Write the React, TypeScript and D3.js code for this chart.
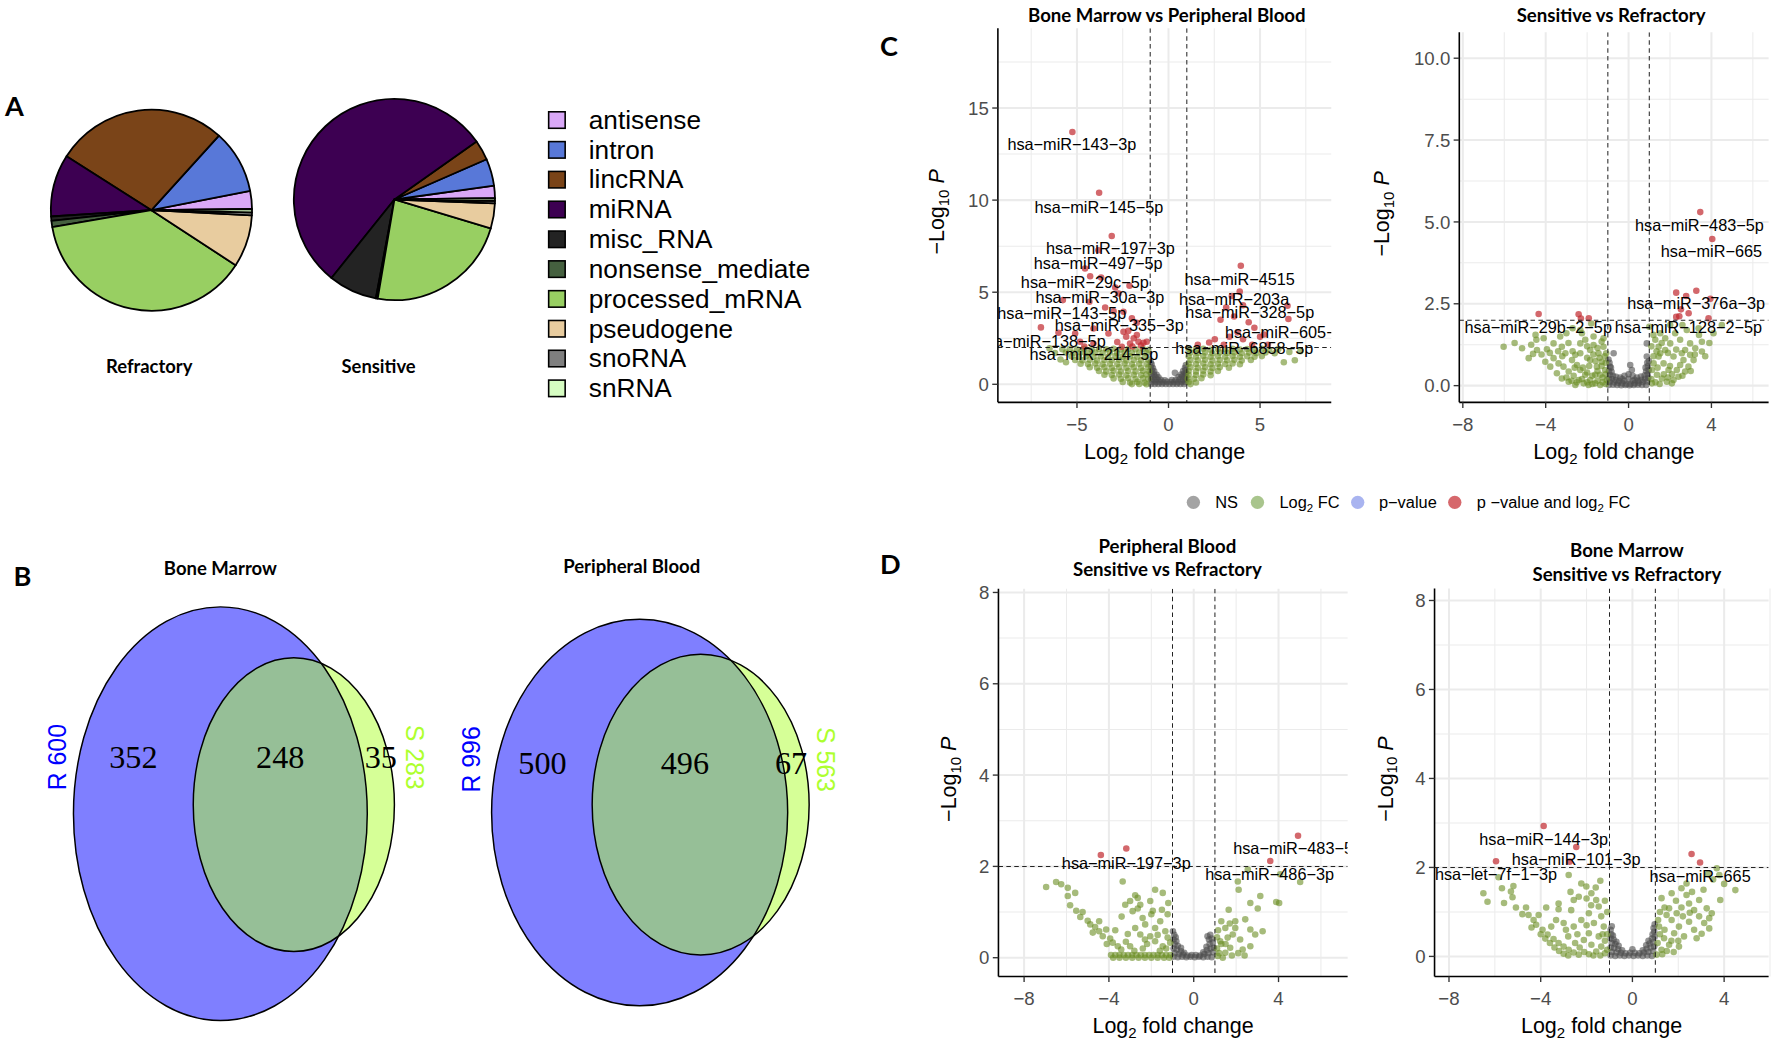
import React, { useEffect, useRef } from 'react';
import * as d3 from 'd3';

type Pt = [number, number];
type Lab = [string, number, number];

// drawing units (the svg is scaled up to 1772x1042)
const VW = 1568;
const VH = 922;
const SANS = "'Liberation Sans', Arial, Helvetica, sans-serif";
const BOLD = "Lato, 'Open Sans', sans-serif";
const SERIF = "'Liberation Serif', 'Times New Roman', serif";

// ---------- A: biotype composition (% of reads) ----------
const biotypes = ['antisense', 'intron', 'lincRNA', 'miRNA', 'misc_RNA', 'nonsense_mediate', 'processed_mRNA', 'pseudogene', 'snoRNA', 'snRNA'];
const biotypeColors = ['#D9A8F7', '#5878D8', '#7A4418', '#3D0052', '#232323', '#45603F', '#98CF62', '#E8CC9F', '#7F7F7F', '#D6FDC2'];
const refractoryShare = [2.9, 10.2, 27.7, 10.0, 0.7, 1.0, 38.1, 8.4, 0.45, 0.55];
const sensitiveShare = [2.0, 4.35, 3.25, 54.45, 7.8, 0.3, 23.0, 4.05, 0.4, 0.4];
const pieNames = ['Refractory', 'Sensitive'];

// ---------- B: Venn counts ----------
const vennSets = ['Bone Marrow', 'Peripheral Blood'];
const refractoryTotals = [600, 996];
const sensitiveTotals = [283, 563];
const refractoryOnly = [352, 500];
const sharedCounts = [248, 496];
const sensitiveOnly = [35, 67];

// ---------- C left: Bone Marrow vs Peripheral Blood ----------
const bmPbNs: Pt[] = [
  [-0.95, 0.02], [-0.75, 0.02], [-0.55, 0.02], [-0.35, 0.02], [-0.15, 0.02], [0.05, 0.02], [0.25, 0.02], [0.45, 0.02], [0.65, 0.02], [0.85, 0.02],
  [-0.88, 0.14], [-0.68, 0.12], [-0.48, 0.13], [-0.28, 0.11], [-0.08, 0.14], [0.12, 0.12], [0.32, 0.13], [0.52, 0.11], [0.72, 0.14], [0.92, 0.12],
  [-0.95, 0.27], [-0.78, 0.25], [-0.6, 0.26], [-0.42, 0.24], [-0.2, 0.22], [0.18, 0.23], [0.4, 0.25], [0.62, 0.27], [0.8, 0.24], [0.96, 0.28],
  [-0.9, 0.42], [-0.72, 0.4], [-0.55, 0.38], [0.55, 0.39], [0.74, 0.42], [0.9, 0.44],
  [-0.95, 0.58], [-0.8, 0.55], [-0.65, 0.52], [0.68, 0.53], [0.84, 0.57], [0.96, 0.6],
  [-0.9, 0.75], [-0.78, 0.7], [0.8, 0.72], [0.93, 0.78],
  [-0.95, 0.92], [-0.85, 0.88], [0.9, 0.9], [-0.92, 1.08], [0.95, 1.05], [0.35, 0.62], [-0.97, 1.2],
];
const bmPbFc: Pt[] = [
  [-5.4, 1.92], [-5.0, 1.9], [-4.6, 1.93], [-4.2, 1.88], [-3.8, 1.92], [-3.4, 1.9], [-3.0, 1.93], [-2.6, 1.89], [-2.2, 1.92], [-1.8, 1.9], [-1.4, 1.93], [-1.1, 1.88],
  [-5.6, 1.72], [-5.2, 1.7], [-4.8, 1.74], [-4.4, 1.69], [-4.0, 1.72], [-3.6, 1.7], [-3.2, 1.73], [-2.8, 1.69], [-2.4, 1.72], [-2.0, 1.7], [-1.6, 1.73], [-1.2, 1.7],
  [-5.3, 1.52], [-4.9, 1.5], [-4.5, 1.53], [-4.1, 1.49], [-3.7, 1.52], [-3.3, 1.5], [-2.9, 1.53], [-2.5, 1.49], [-2.1, 1.52], [-1.7, 1.5], [-1.3, 1.53],
  [-5.1, 1.32], [-4.7, 1.3], [-4.3, 1.33], [-3.9, 1.29], [-3.5, 1.32], [-3.1, 1.3], [-2.7, 1.33], [-2.3, 1.29], [-1.9, 1.32], [-1.5, 1.3], [-1.1, 1.33],
  [-4.8, 1.12], [-4.4, 1.1], [-4.0, 1.13], [-3.6, 1.09], [-3.2, 1.12], [-2.8, 1.1], [-2.4, 1.13], [-2.0, 1.09], [-1.6, 1.12], [-1.2, 1.1],
  [-4.3, 0.92], [-3.9, 0.9], [-3.5, 0.93], [-3.1, 0.89], [-2.7, 0.92], [-2.3, 0.9], [-1.9, 0.93], [-1.5, 0.89], [-1.1, 0.92],
  [-3.8, 0.72], [-3.4, 0.7], [-3.0, 0.73], [-2.6, 0.69], [-2.2, 0.72], [-1.8, 0.7], [-1.4, 0.73], [-1.05, 0.69],
  [-3.5, 0.52], [-3.1, 0.5], [-2.7, 0.53], [-2.3, 0.49], [-1.9, 0.52], [-1.5, 0.5], [-1.2, 0.53],
  [-3.0, 0.32], [-2.6, 0.3], [-2.2, 0.33], [-1.8, 0.29], [-1.4, 0.32], [-1.1, 0.3],
  [-2.5, 0.12], [-2.1, 0.1], [-1.7, 0.13], [-1.3, 0.09], [-2.0, 0.01], [-1.6, 0.02], [-1.2, 0.0],
  [-6.2, 1.7], [-5.9, 1.35], [-6.5, 1.95], [-5.8, 1.9], [-5.6, 1.2],
  [1.1, 1.92], [1.5, 1.9], [1.9, 1.93], [2.3, 1.88], [2.7, 1.92], [3.1, 1.9], [3.5, 1.93], [3.9, 1.89], [4.3, 1.92], [4.7, 1.9], [5.1, 1.93], [5.5, 1.88], [6.0, 1.91],
  [1.2, 1.72], [1.6, 1.7], [2.0, 1.73], [2.4, 1.69], [2.8, 1.72], [3.2, 1.7], [3.6, 1.73], [4.0, 1.69], [4.4, 1.72], [4.8, 1.7], [5.3, 1.73], [5.8, 1.69], [6.6, 1.75],
  [1.1, 1.52], [1.5, 1.5], [1.9, 1.53], [2.3, 1.49], [2.7, 1.52], [3.1, 1.5], [3.5, 1.53], [3.9, 1.49], [4.3, 1.52], [4.7, 1.5], [5.1, 1.53],
  [1.2, 1.32], [1.6, 1.3], [2.0, 1.33], [2.4, 1.29], [2.8, 1.32], [3.2, 1.3], [3.6, 1.33], [4.0, 1.29], [4.5, 1.32],
  [1.1, 1.12], [1.5, 1.1], [1.9, 1.13], [2.3, 1.09], [2.7, 1.12], [3.1, 1.1], [3.5, 1.13], [3.9, 1.09],
  [1.2, 0.92], [1.6, 0.9], [2.0, 0.93], [2.4, 0.89], [2.8, 0.92], [3.3, 0.9],
  [1.1, 0.72], [1.5, 0.7], [1.9, 0.73], [2.3, 0.69], [2.7, 0.72],
  [1.1, 0.52], [1.5, 0.5], [1.9, 0.53], [2.3, 0.49], [1.05, 0.32], [1.4, 0.3], [1.8, 0.33],
  [1.1, 0.12], [1.5, 0.1], [1.2, 0.01], [6.9, 1.3], [7.2, 1.8], [6.3, 1.2],
];
const bmPbSig: Pt[] = [
  [-5.25, 13.7], [-3.79, 10.4], [-3.1, 8.05], [-3.83, 7.28], [-4.56, 6.29], [-4.28, 5.87], [-3.68, 5.8], [-2.91, 5.26], [-2.13, 5.35], [-2.73, 4.93],
  [-5.77, 4.57], [-4.32, 4.48], [-3.46, 4.17], [-3.0, 3.97], [-2.46, 3.94], [-2.0, 3.58], [-1.73, 3.34], [-6.97, 3.09], [-6.01, 2.8], [-5.1, 2.76],
  [-4.1, 3.03], [-3.28, 2.76], [-2.46, 2.85], [-2.31, 2.58], [-1.73, 2.67], [-2.1, 2.21], [-1.64, 2.31], [-1.37, 2.25], [-1.19, 2.31], [-2.55, 2.04],
  [-4.83, 2.31], [-4.1, 2.21], [-4.6, 2.05], [-1.97, 2.05], [-2.2, 2.9], [-1.9, 2.5], [-1.5, 2.1], [-2.8, 2.3],
  [3.95, 6.44], [3.46, 4.79], [3.89, 5.03], [3.15, 4.17], [4.07, 4.29], [3.58, 3.68], [4.38, 3.37], [2.84, 3.5], [4.69, 3.07], [3.77, 2.82],
  [3.33, 2.58], [2.53, 2.45], [4.07, 2.45], [5.0, 2.58], [2.22, 2.27], [5.43, 2.15], [3.02, 2.15], [1.6, 2.15], [4.57, 2.15], [6.5, 4.26],
  [6.55, 3.54], [5.22, 2.7],
];
const bmPbLabels: Lab[] = [
  ['hsa−miR−143−3p', -5.28, 13.02], ['hsa−miR−145−5p', -3.8, 9.63], ['hsa−miR−197−3p', -3.17, 7.37], ['hsa−miR−497−5p', -3.84, 6.56],
  ['hsa−miR−29c−5p', -4.57, 5.56], ['hsa−miR−30a−3p', -3.75, 4.72], ['hsa−miR−143−5p', -5.83, 3.85], ['hsa−miR−335−3p', -2.69, 3.21],
  ['hsa−miR−138−5p', -6.95, 2.36], ['hsa−miR−214−5p', -4.07, 1.64], ['hsa−miR−4515', 3.89, 5.71], ['hsa−miR−203a', 3.58, 4.6],
  ['hsa−miR−328−5p', 4.44, 3.93], ['hsa−miR−605−5p', 6.6, 2.82], ['hsa−miR−6858−5p', 4.14, 1.96],
];

// ---------- C right: Sensitive vs Refractory ----------
const srNs: Pt[] = [
  [-0.95, 0.02], [-0.75, 0.03], [-0.55, 0.02], [-0.35, 0.01], [-0.15, 0.02], [0.05, 0.01], [0.25, 0.02], [0.45, 0.03], [0.65, 0.02], [0.85, 0.02],
  [-0.9, 0.12], [-0.7, 0.1], [-0.5, 0.09], [-0.3, 0.07], [0.3, 0.07], [0.5, 0.09], [0.7, 0.11], [0.9, 0.13], [-0.1, 0.05], [0.1, 0.05],
  [-0.95, 0.22], [-0.8, 0.2], [-0.62, 0.17], [-0.45, 0.14], [0.45, 0.15], [0.62, 0.18], [0.8, 0.21], [0.95, 0.24],
  [-0.9, 0.33], [-0.75, 0.3], [-0.6, 0.27], [0.6, 0.28], [0.78, 0.32], [0.92, 0.35],
  [-0.95, 0.45], [-0.82, 0.42], [0.85, 0.44], [0.97, 0.48], [-0.9, 0.58], [0.93, 0.6],
  [-0.72, 0.99], [0.08, 0.63], [0.16, 0.48], [0.88, 1.29], [0.88, 0.89], [-0.97, 0.8], [0.98, 0.75],
  [-0.92, 0.7], [-0.85, 0.55], [0.9, 0.7], [0.82, 0.55], [-0.2, 0.3], [0.0, 0.35], [0.2, 0.3], [-0.4, 0.25], [0.4, 0.25],
  [-0.3, 0.2], [0.3, 0.18], [0.0, 0.2], [-0.2, 0.15], [0.2, 0.15],
];
const srFc: Pt[] = [
  [-6.03, 1.19], [-5.14, 1.14], [-4.82, 0.84], [-4.61, 0.97], [-4.45, 1.4], [-4.49, 1.55], [-4.42, 1.09], [-3.94, 1.11], [-4.1, 1.45], [-3.62, 1.29],
  [-3.3, 1.5], [-3.22, 1.19], [-3.05, 0.99], [-2.73, 0.78], [-2.49, 0.63], [-2.33, 0.48], [-2.09, 0.33], [-1.85, 0.17], [-1.61, 0.07], [-1.37, 0.02],
  [-3.62, 0.84], [-3.38, 0.68], [-3.14, 0.58], [-2.89, 0.43], [-2.65, 0.3], [-2.41, 0.17], [-2.17, 0.07], [-1.93, 0.02], [-2.33, 1.29], [-2.09, 1.4],
  [-1.85, 1.09], [-1.69, 1.24], [-1.45, 0.99], [-1.21, 1.19], [-1.29, 0.73], [-1.53, 0.58], [-1.13, 0.48], [-1.37, 0.33], [-1.05, 0.17], [-1.61, 0.33],
  [-4.02, 0.73], [-3.78, 0.58], [-3.46, 0.38], [-3.22, 0.22], [-2.89, 0.12], [-2.57, 0.02], [-2.33, 0.99], [-2.57, 0.94], [-1.85, 0.78], [-1.69, 1.5],
  [-2.25, 1.6], [-1.21, 1.45], [-1.08, 0.99], [-2.33, 1.7],
  [-3.0, 0.25], [-2.75, 0.15], [-2.5, 0.1], [-2.25, 0.2], [-2.0, 0.1], [-1.75, 0.05], [-1.5, 0.15], [-1.25, 0.1], [-1.1, 0.05], [-2.0, 0.4],
  [-1.75, 0.3], [-1.5, 0.45], [-1.25, 0.25], [-1.1, 0.35], [-2.2, 0.55], [-1.9, 0.6], [-1.6, 0.75], [-1.3, 0.6], [-1.1, 0.7], [-2.0, 0.85],
  [-1.7, 0.95], [-1.4, 0.85], [-1.15, 0.9], [-2.7, 1.05], [-2.9, 1.3], [-2.0, 1.2], [-1.5, 1.15], [-1.3, 1.35], [-2.6, 0.55], [-3.2, 0.9],
  [-3.4, 1.05], [-3.8, 1.0], [-4.2, 0.95], [-5.5, 1.3], [-4.7, 1.25], [-1.8, 1.9], [-3.0, 1.6], [-2.7, 1.75],
  [1.29, 1.4], [1.45, 1.19], [1.53, 1.6], [1.77, 1.45], [2.01, 1.29], [2.25, 1.6], [2.49, 1.4], [2.73, 1.09], [2.97, 1.29], [3.22, 1.14],
  [3.54, 1.34], [3.54, 1.04], [2.17, 0.89], [2.49, 0.63], [2.41, 0.27], [2.17, 0.17], [1.93, 0.48], [1.69, 0.68], [1.45, 0.89], [1.21, 0.68],
  [1.13, 0.48], [1.37, 0.33], [1.61, 0.22], [1.85, 0.12], [1.13, 0.07], [2.65, 0.78], [2.89, 0.58], [2.73, 0.43], [2.57, 0.99], [2.97, 0.94],
  [3.14, 0.78], [4.5, 1.85], [4.1, 1.6], [2.01, 1.85], [2.81, 1.7], [3.38, 1.75], [1.53, 0.99], [1.77, 1.09], [2.09, 0.07], [2.33, 0.48],
  [1.1, 0.2], [1.3, 0.1], [1.5, 0.05], [1.7, 0.35], [1.9, 0.25], [2.1, 0.35], [1.2, 0.9], [1.35, 1.05], [1.1, 1.2], [1.6, 1.3],
  [1.9, 1.0], [2.3, 1.1], [2.0, 0.6], [1.4, 0.55], [3.2, 0.95], [3.0, 0.45], [2.6, 0.3], [3.9, 1.3], [3.7, 0.9], [1.2, 1.55],
  [1.0, 1.8], [2.6, 1.85], [3.4, 1.55],
];
const srSig: Pt[] = [
  [-4.34, 2.19], [-2.41, 2.18], [-1.92, 2.06], [-2.3, 2.05], [2.3, 2.84], [2.78, 2.74], [3.27, 2.9], [2.53, 2.33], [2.9, 2.21], [2.3, 2.1],
  [2.45, 2.12], [3.86, 2.06], [3.95, 2.65], [3.46, 5.3], [4.04, 4.48],
];
const srLabels: Lab[] = [
  ['hsa−miR−483−5p', 3.42, 4.89], ['hsa−miR−665', 4.0, 4.09], ['hsa−miR−376a−3p', 3.26, 2.52],
  ['hsa−miR−29b−2−5p', -4.36, 1.78], ['hsa−miR−128−2−5p', 2.89, 1.78],
];

// ---------- D left: Peripheral Blood, Sensitive vs Refractory ----------
const pbSrNs: Pt[] = [
  [-0.95, 0.02], [-0.75, 0.01], [-0.55, 0.02], [-0.35, 0.01], [-0.15, 0.02], [0.05, 0.01], [0.25, 0.02], [0.45, 0.01], [0.65, 0.02], [0.85, 0.01],
  [-0.9, 0.1], [-0.7, 0.08], [-0.5, 0.07], [-0.3, 0.05], [0.3, 0.05], [0.5, 0.08], [0.7, 0.1], [0.9, 0.12], [-0.1, 0.06], [0.1, 0.06],
  [-0.95, 0.2], [-0.8, 0.18], [-0.6, 0.14], [-0.45, 0.11], [0.45, 0.12], [0.62, 0.17], [0.8, 0.2], [0.95, 0.22],
  [-0.9, 0.3], [-0.75, 0.26], [-0.6, 0.22], [0.6, 0.24], [0.75, 0.3], [0.9, 0.33],
  [-0.95, 0.4], [-0.82, 0.36], [0.72, 0.4], [0.85, 0.42], [-0.92, 0.5], [-0.98, 0.58], [0.65, 0.47], [0.78, 0.5], [-0.85, 0.45],
];
const pbSrFc: Pt[] = [
  [-6.96, 1.55], [-6.49, 1.66], [-6.25, 1.61], [-5.94, 1.53], [-5.59, 1.42], [-5.94, 1.35], [-5.83, 1.15], [-5.54, 1.03], [-5.24, 1.0], [-5.35, 0.89],
  [-5.0, 0.81], [-4.88, 0.73], [-4.65, 0.67], [-4.46, 0.58], [-4.29, 0.47], [-3.94, 0.42], [-3.82, 0.33], [-3.58, 0.25], [-3.42, 0.18], [-4.46, 0.8],
  [-4.13, 0.62], [-4.76, 0.55], [-3.35, 1.67], [-3.0, 1.24], [-2.76, 1.37], [-2.52, 1.16], [-2.64, 1.08], [-2.05, 1.24], [-1.93, 1.03], [-1.82, 1.49],
  [-1.46, 1.42], [-1.23, 0.95], [-1.58, 0.8], [-2.29, 0.73], [-2.76, 0.65], [-3.11, 0.52], [-2.52, 0.51], [-2.05, 0.47], [-1.34, 0.58], [-1.23, 0.44],
  [-1.82, 0.36], [-2.64, 1.31], [-3.23, 1.16], [-2.88, 1.02], [-2.41, 0.87], [-1.82, 0.65], [-1.46, 0.25], [-1.11, 0.33],
  [-3.9, 0.06], [-3.7, 0.06], [-3.5, 0.06], [-3.3, 0.06], [-3.1, 0.06], [-2.9, 0.06], [-2.7, 0.06], [-2.5, 0.06], [-2.3, 0.06], [-2.1, 0.06],
  [-1.9, 0.06], [-1.7, 0.06], [-1.5, 0.06], [-1.3, 0.06], [-1.1, 0.06], [-3.8, 0.0], [-3.5, 0.0], [-3.2, 0.0], [-2.9, 0.0], [-2.6, 0.0],
  [-2.3, 0.0], [-2.0, 0.0], [-1.7, 0.0], [-1.4, 0.0], [-1.15, 0.0],
  [-3.2, 0.35], [-3.0, 0.25], [-2.8, 0.15], [-2.4, 0.2], [-2.2, 0.3], [-1.6, 0.15], [-1.3, 0.2], [-1.7, 0.5], [-2.3, 0.4], [-1.5, 1.05],
  [-1.2, 1.2], [-3.4, 0.9], [-3.7, 0.6], [-4.1, 0.3], [-2.0, 0.95],
  [2.12, 1.49], [2.08, 1.67], [2.67, 1.2], [3.14, 1.35], [3.02, 1.08], [4.03, 1.2], [3.89, 1.22], [1.65, 1.05], [1.96, 0.8], [2.43, 0.84],
  [2.67, 0.62], [3.25, 0.58], [2.9, 0.51], [1.84, 0.51], [1.49, 0.65], [2.19, 0.4], [2.67, 0.25], [2.31, 0.18], [1.49, 0.11], [1.25, 0.36],
  [1.13, 0.04], [1.37, 0.0], [1.72, 0.22], [1.6, 0.44], [1.96, 0.65], [2.55, 1.93], [4.08, 1.83], [5.02, 1.66],
  [1.1, 0.2], [1.2, 0.1], [1.3, 0.3], [1.1, 0.45], [1.8, 0.05], [2.1, 0.1], [1.5, 0.3], [1.15, 0.6], [1.3, 0.8], [2.4, 0.05], [1.7, 0.75],
];
const pbSrSig: Pt[] = [[-4.38, 2.25], [-3.18, 2.39], [4.92, 2.67], [3.61, 2.12]];
const pbSrLabels: Lab[] = [['hsa−miR−197−3p', -3.18, 2.07], ['hsa−miR−483−5p', 4.9, 2.39], ['hsa−miR−486−3p', 3.58, 1.82]];

// ---------- D right: Bone Marrow, Sensitive vs Refractory ----------
const bmSrNs: Pt[] = [
  [-0.95, 0.02], [-0.75, 0.01], [-0.55, 0.02], [-0.35, 0.01], [-0.15, 0.02], [0.05, 0.01], [0.25, 0.02], [0.45, 0.01], [0.65, 0.02], [0.85, 0.01],
  [-0.9, 0.1], [-0.7, 0.09], [-0.5, 0.08], [-0.3, 0.07], [-0.1, 0.08], [0.1, 0.08], [0.3, 0.07], [0.5, 0.09], [0.7, 0.1], [0.9, 0.12],
  [-0.95, 0.2], [-0.8, 0.19], [-0.62, 0.16], [-0.45, 0.14], [0.45, 0.14], [0.62, 0.17], [0.8, 0.2], [0.95, 0.22], [0.0, 0.16],
  [-0.9, 0.3], [-0.75, 0.28], [-0.6, 0.24], [0.6, 0.25], [0.75, 0.29], [0.9, 0.32],
  [-0.95, 0.4], [-0.82, 0.38], [-0.7, 0.33], [0.7, 0.35], [0.85, 0.4], [0.97, 0.44],
  [-0.92, 0.5], [-0.85, 0.47], [0.88, 0.5], [0.95, 0.56], [-0.95, 0.6], [-0.9, 0.68], [0.92, 0.64], [0.97, 0.72],
];
const bmSrFc: Pt[] = [
  [-6.5, 1.42], [-6.32, 1.23], [-5.84, 1.78], [-5.69, 1.53], [-5.3, 1.46], [-5.19, 1.58], [-5.23, 1.33], [-5.08, 1.1], [-4.64, 1.1], [-4.53, 0.93],
  [-4.31, 0.82], [-4.2, 0.71], [-3.92, 0.6], [-3.7, 0.49], [-3.44, 0.39], [-3.22, 0.3], [-3.0, 0.22], [-2.78, 0.15], [-2.56, 0.09], [-2.34, 0.04],
  [-3.76, 1.1], [-3.22, 1.06], [-2.67, 1.04], [-2.56, 1.27], [-2.23, 1.64], [-2.01, 1.57], [-1.79, 1.42], [-1.58, 1.27], [-1.47, 1.12], [-1.9, 0.97],
  [-2.23, 0.82], [-2.56, 0.67], [-3.0, 0.75], [-3.33, 0.82], [-1.68, 0.75], [-1.36, 0.9], [-1.25, 0.67], [-1.9, 0.52], [-1.47, 0.45], [-2.12, 0.37],
  [-1.79, 0.26], [-1.36, 0.22], [-1.58, 0.11], [-1.2, 0.07], [-2.78, 1.83], [-3.22, 1.19], [-4.09, 0.93], [-3.54, 0.67], [-2.34, 1.34],
  [-4.0, 0.5], [-3.8, 0.4], [-3.6, 0.3], [-3.4, 0.2], [-3.2, 0.12], [-3.0, 0.06], [-2.8, 0.02], [-2.5, 0.3], [-2.3, 0.2], [-2.1, 0.1],
  [-1.9, 0.05], [-1.7, 0.02], [-1.4, 0.02], [-1.1, 0.15], [-1.2, 0.35], [-1.1, 0.5], [-1.3, 0.5], [-2.0, 0.7], [-2.4, 0.5], [-2.8, 0.45],
  [-2.9, 0.6], [-4.4, 0.65], [-4.8, 0.95], [-1.1, 1.0], [-1.2, 1.25], [-1.6, 1.55], [-1.4, 1.7], [-2.0, 1.3], [-2.7, 1.45], [-1.8, 1.15], [-5.6, 1.2],
  [1.27, 1.31], [1.6, 1.08], [1.71, 0.82], [2.14, 1.53], [2.36, 1.38], [2.47, 1.19], [2.69, 1.04], [2.91, 1.27], [3.24, 1.08], [3.35, 0.86],
  [3.52, 1.73], [3.68, 1.98], [3.79, 1.83], [4.0, 1.63], [4.49, 1.49], [3.83, 1.27], [3.46, 0.97], [3.02, 0.51], [2.03, 0.67], [2.47, 0.78],
  [1.82, 0.52], [1.38, 0.41], [1.6, 0.26], [1.27, 0.15], [2.25, 0.45], [2.69, 0.6], [1.93, 0.97], [2.91, 0.9], [1.16, 0.67], [1.12, 0.82],
  [1.49, 0.93], [2.14, 1.1], [2.36, 1.64], [1.71, 1.42], [3.13, 0.75], [2.8, 0.41], [3.35, 0.63], [2.03, 0.22], [1.05, 0.04],
  [1.1, 0.3], [1.2, 0.5], [1.4, 0.6], [1.3, 0.05], [1.5, 0.12], [1.8, 0.1], [1.7, 0.35], [2.0, 0.35], [1.4, 1.1], [1.2, 1.0],
  [1.9, 1.25], [2.6, 1.45], [3.1, 1.5], [3.3, 1.85], [2.2, 0.9], [2.5, 0.98],
];
const bmSrSig: Pt[] = [[-3.87, 2.93], [-2.45, 2.46], [-5.95, 2.14], [-2.74, 2.13], [2.58, 2.3], [2.95, 2.11]];
const bmSrLabels: Lab[] = [
  ['hsa−miR−144−3p', -3.87, 2.63], ['hsa−miR−101−3p', -2.45, 2.18], ['hsa−let−7f−1−3p', -5.95, 1.84], ['hsa−miR−665', 2.95, 1.81],
];

const legendKeys = ['NS', 'Log2 FC', 'p−value', 'p −value and log2 FC'];
const legendColors = ['#A3A3A3', '#A9C58D', '#A9B4F0', '#D6686C'];

const NS_COL = '#4D4D4D';
const FC_COL = '#6B8E23';
const SIG_COL = '#C0282D';
const GRID = '#EBEBEB';

const volcanoPanels = [
  {
    title: ['Bone Marrow vs Peripheral Blood'], titleX: 1032.5, titleY: [13.5],
    box: [883, 25, 1178, 356], xDom: [-9.32, 8.89], yDom: [-0.98, 19.33],
    xTicks: [-5, 0, 5], xMinor: [-7.5, -2.5, 2.5, 7.5], yTicks: [0, 5, 10, 15], yMinor: [2.5, 7.5, 12.5, 17.5], yFmt: 'd', ylabX: 829,
    ns: bmPbNs, fc: bmPbFc, sig: bmPbSig, labels: bmPbLabels,
  },
  {
    title: ['Sensitive vs Refractory'], titleX: 1425.6, titleY: [13.5],
    box: [1291.3, 28.6, 1565, 356], xDom: [-8.17, 6.76], yDom: [-0.51, 10.79],
    xTicks: [-8, -4, 0, 4], xMinor: [-6, -2, 2, 6], yTicks: [0, 2.5, 5, 7.5, 10], yMinor: [1.25, 3.75, 6.25, 8.75], yFmt: '.1f', ylabX: 1222.8,
    ns: srNs, fc: srFc, sig: srSig, labels: srLabels,
  },
  {
    title: ['Peripheral Blood', 'Sensitive vs Refractory'], titleX: 1033, titleY: [483.3, 504],
    box: [883.5, 521, 1192.5, 864], xDom: [-9.21, 7.26], yDom: [-0.41, 8.08],
    xTicks: [-8, -4, 0, 4], xMinor: [-6, -2, 2, 6], yTicks: [0, 2, 4, 6, 8], yMinor: [1, 3, 5, 7], yFmt: 'd', ylabX: 839.3,
    ns: pbSrNs, fc: pbSrFc, sig: pbSrSig, labels: pbSrLabels,
  },
  {
    title: ['Bone Marrow', 'Sensitive vs Refractory'], titleX: 1439.6, titleY: [487.3, 508.3],
    box: [1269.4, 520.7, 1565, 864], xDom: [-8.63, 5.94], yDom: [-0.45, 8.27],
    xTicks: [-8, -4, 0, 4], xMinor: [-6, -2, 2, 6], yTicks: [0, 2, 4, 6, 8], yMinor: [1, 3, 5, 7], yFmt: 'd', ylabX: 1225.7,
    ns: bmSrNs, fc: bmSrFc, sig: bmSrSig, labels: bmSrLabels,
  },
];

type Part = [string, string?];

function rich(g: any, x: number, y: number, parts: Part[], size: number, anchor = 'start') {
  const t = g.append('text').attr('x', x).attr('y', y).attr('font-family', SANS)
    .attr('font-size', size).attr('text-anchor', anchor).attr('fill', '#000');
  let down = false;
  parts.forEach(([s, kind]) => {
    const ts = t.append('tspan').text(s);
    if (kind === 'sub') {
      ts.attr('font-size', size * 0.7).attr('dy', size * 0.22);
      down = true;
    } else {
      if (down) { ts.attr('dy', -size * 0.22); down = false; }
      if (kind === 'it') ts.attr('font-style', 'italic');
    }
  });
  return t;
}

function drawPies(svg: any) {
  const centers = [[134, 186], [349, 176.5]];
  const shares = [refractoryShare, sensitiveShare];
  const start = (89.3 * Math.PI) / 180;
  const pie = d3.pie<number>().sort(null).value((d) => d).startAngle(start).endAngle(start - 2 * Math.PI);
  const arc = d3.arc<d3.PieArcDatum<number>>().innerRadius(0).outerRadius(89);
  shares.forEach((vals, k) => {
    const g = svg.append('g').attr('transform', `translate(${centers[k][0]},${centers[k][1]})`);
    g.selectAll('path').data(pie(vals)).join('path')
      .attr('d', arc as any)
      .attr('fill', (_: any, i: number) => biotypeColors[i])
      .attr('stroke', '#000').attr('stroke-width', 1.6).attr('stroke-linejoin', 'round');
    svg.append('text').attr('x', [132, 335][k]).attr('y', 330).attr('text-anchor', 'middle')
      .attr('font-family', BOLD).attr('font-weight', 700).attr('font-size', 16.3).text(pieNames[k]);
  });
  // legend
  const lg = svg.append('g');
  biotypes.forEach((name, i) => {
    const cy = 106.2 + i * 26.38;
    lg.append('rect').attr('x', 485.5).attr('y', cy - 7.3).attr('width', 14.6).attr('height', 14.6)
      .attr('fill', biotypeColors[i]).attr('stroke', '#000').attr('stroke-width', 1.4);
    lg.append('text').attr('x', 521).attr('y', cy + 7.8).attr('font-family', SANS).attr('font-size', 23.2).text(name);
  });
}

function drawVenns(svg: any) {
  const layout = [
    { R: [195, 720, 130, 183], S: [260, 712, 89, 130], titleX: 195, nums: [118, 248, 337], numY: 670, rLab: 51, sLab: 367, labY: 670 },
    { R: [566, 719, 131, 171], S: [620, 712, 96, 133], titleX: 559, nums: [480, 606, 700], numY: 675, rLab: 417, sLab: 731, labY: 672 },
  ];
  layout.forEach((L, k) => {
    const g = svg.append('g');
    g.append('text').attr('x', L.titleX).attr('y', 509 - k * 2).attr('text-anchor', 'middle')
      .attr('font-family', BOLD).attr('font-weight', 700).attr('font-size', 16.4).text(vennSets[k]);
    g.append('ellipse').attr('cx', L.R[0]).attr('cy', L.R[1]).attr('rx', L.R[2]).attr('ry', L.R[3])
      .attr('fill', '#0000FF').attr('fill-opacity', 0.5);
    g.append('ellipse').attr('cx', L.S[0]).attr('cy', L.S[1]).attr('rx', L.S[2]).attr('ry', L.S[3])
      .attr('fill', '#ADFF2F').attr('fill-opacity', 0.5);
    [L.R, L.S].forEach((e) => g.append('ellipse').attr('cx', e[0]).attr('cy', e[1]).attr('rx', e[2]).attr('ry', e[3])
      .attr('fill', 'none').attr('stroke', '#000').attr('stroke-width', 1.3));
    const counts = [refractoryOnly[k], sharedCounts[k], sensitiveOnly[k]];
    counts.forEach((c, i) => {
      g.append('text').attr('x', L.nums[i]).attr('y', L.numY + 10).attr('text-anchor', 'middle')
        .attr('font-family', SERIF).attr('font-size', 28.5).text(String(c));
    });
    g.append('text').attr('transform', `translate(${L.rLab},${L.labY}) rotate(-90)`).attr('text-anchor', 'middle')
      .attr('dy', '0.35em').attr('font-family', SANS).attr('font-size', 22).attr('fill', '#0000FF')
      .text(`R ${refractoryTotals[k]}`);
    g.append('text').attr('transform', `translate(${L.sLab},${L.labY}) rotate(90)`).attr('text-anchor', 'middle')
      .attr('dy', '0.35em').attr('font-family', SANS).attr('font-size', 22).attr('fill', '#ADFF2F')
      .text(`S ${sensitiveTotals[k]}`);
  });
}

function drawVolcano(svg: any, p: any, idx: number) {
  const [l, t, r, b] = p.box;
  const x = d3.scaleLinear().domain(p.xDom).range([l, r]);
  const y = d3.scaleLinear().domain(p.yDom).range([b, t]);
  const clipId = `vclip${idx}`;
  svg.append('clipPath').attr('id', clipId).append('rect')
    .attr('x', l).attr('y', t).attr('width', r - l).attr('height', b - t);
  const g = svg.append('g');
  const grid = g.append('g');
  p.xMinor.forEach((v: number) => grid.append('line').attr('x1', x(v)).attr('x2', x(v)).attr('y1', t).attr('y2', b)
    .attr('stroke', GRID).attr('stroke-width', 0.9));
  p.yMinor.forEach((v: number) => grid.append('line').attr('x1', l).attr('x2', r).attr('y1', y(v)).attr('y2', y(v))
    .attr('stroke', GRID).attr('stroke-width', 0.9));
  p.xTicks.forEach((v: number) => grid.append('line').attr('x1', x(v)).attr('x2', x(v)).attr('y1', t).attr('y2', b)
    .attr('stroke', GRID).attr('stroke-width', 1.8));
  p.yTicks.forEach((v: number) => grid.append('line').attr('x1', l).attr('x2', r).attr('y1', y(v)).attr('y2', y(v))
    .attr('stroke', GRID).attr('stroke-width', 1.8));

  const pts = g.append('g').attr('clip-path', `url(#${clipId})`);
  const layers: [Pt[], string, number][] = [[p.ns, NS_COL, 0.6], [p.fc, FC_COL, 0.6], [p.sig, SIG_COL, 0.7]];
  layers.forEach(([data, col, op]) => {
    pts.append('g').selectAll('circle').data(data).join('circle')
      .attr('cx', (d: Pt) => x(d[0])).attr('cy', (d: Pt) => y(d[1])).attr('r', 2.9)
      .attr('fill', col).attr('fill-opacity', op);
  });
  const cut = g.append('g').attr('clip-path', `url(#${clipId})`)
    .attr('stroke', '#222').attr('stroke-width', 0.9).attr('stroke-dasharray', '4,3');
  [-1, 1].forEach((v) => cut.append('line').attr('x1', x(v)).attr('x2', x(v)).attr('y1', t).attr('y2', b));
  cut.append('line').attr('x1', l).attr('x2', r).attr('y1', y(2)).attr('y2', y(2));

  const labs = g.append('g').attr('clip-path', `url(#${clipId})`);
  p.labels.forEach(([name, lx, ly]: Lab) => {
    labs.append('text').attr('x', x(lx)).attr('y', y(ly)).attr('dy', '0.35em').attr('text-anchor', 'middle')
      .attr('font-family', SANS).attr('font-size', 14.4).attr('fill', '#000').text(name);
  });

  // axes
  const ax = g.append('g');
  ax.append('line').attr('x1', l).attr('x2', l).attr('y1', t).attr('y2', b).attr('stroke', '#000').attr('stroke-width', 1.4);
  ax.append('line').attr('x1', l).attr('x2', r).attr('y1', b).attr('y2', b).attr('stroke', '#000').attr('stroke-width', 1.4);
  const fy = d3.format(p.yFmt);
  const fx = d3.format('d');
  p.yTicks.forEach((v: number) => {
    ax.append('line').attr('x1', l - 5).attr('x2', l).attr('y1', y(v)).attr('y2', y(v)).attr('stroke', '#333').attr('stroke-width', 1.2);
    ax.append('text').attr('x', l - 8).attr('y', y(v)).attr('dy', '0.36em').attr('text-anchor', 'end')
      .attr('font-family', SANS).attr('font-size', 16.5).attr('fill', '#4D4D4D').text(fy(v));
  });
  p.xTicks.forEach((v: number) => {
    ax.append('line').attr('x1', x(v)).attr('x2', x(v)).attr('y1', b).attr('y2', b + 5).attr('stroke', '#333').attr('stroke-width', 1.2);
    ax.append('text').attr('x', x(v)).attr('y', b + 19).attr('dy', '0.36em').attr('text-anchor', 'middle')
      .attr('font-family', SANS).attr('font-size', 16.5).attr('fill', '#4D4D4D').text(fx(v));
  });
  rich(g, (l + r) / 2, b + 44 + 6.5, [['Log'], ['2', 'sub'], [' fold change']], 19, 'middle');
  const yl = rich(g, 0, 0, [['−Log'], ['10', 'sub'], [' '], ['P', 'it']], 19, 'middle');
  yl.attr('transform', `translate(${p.ylabX + 6.5},${(t + b) / 2 - 3}) rotate(-90)`);

  p.title.forEach((line: string, i: number) => {
    g.append('text').attr('x', p.titleX).attr('y', p.titleY[i]).attr('dy', '0.35em').attr('text-anchor', 'middle')
      .attr('font-family', BOLD).attr('font-weight', 700).attr('font-size', 16.5).text(line);
  });
}

function drawPointLegend(svg: any) {
  const g = svg.append('g');
  const cx = [1056, 1112.7, 1201.4, 1287.3];
  const tx = [1075.3, 1132.2, 1220.2, 1306.8];
  const cy = 444.5;
  legendKeys.forEach((k, i) => {
    g.append('circle').attr('cx', cx[i]).attr('cy', cy).attr('r', 5.9).attr('fill', legendColors[i]);
    const parts: Part[] = k.includes('log2') ? [['p −value and log'], ['2', 'sub'], [' FC']]
      : k.includes('Log2') ? [['Log'], ['2', 'sub'], [' FC']] : [[k]];
    rich(g, tx[i], cy + 5, parts, 14.5, 'start');
  });
}

function drawLetters(svg: any) {
  const letters: [string, number, number][] = [['A', 4.4, 102.7], ['B', 12, 518.6], ['C', 778.8, 49.6], ['D', 778.8, 508.3]];
  letters.forEach(([s, x, y]) => {
    svg.append('text').attr('x', x).attr('y', y).attr('font-family', BOLD).attr('font-weight', 700)
      .attr('font-size', 24).text(s);
  });
}

export default function App() {
  const ref = useRef<SVGSVGElement>(null);
  useEffect(() => {
    const svg = d3.select(ref.current);
    svg.selectAll('*').remove();
    svg.append('rect').attr('width', VW).attr('height', VH).attr('fill', '#fff');
    drawLetters(svg);
    drawPies(svg);
    drawVenns(svg);
    volcanoPanels.forEach((p, i) => drawVolcano(svg, p, i));
    drawPointLegend(svg);
  }, []);
  return (
    <svg ref={ref} width={1772} height={1042} viewBox={`0 0 ${VW} ${VH}`}
      style={{ position: 'absolute', left: 0, top: 0, background: '#fff' }} />
  );
}
